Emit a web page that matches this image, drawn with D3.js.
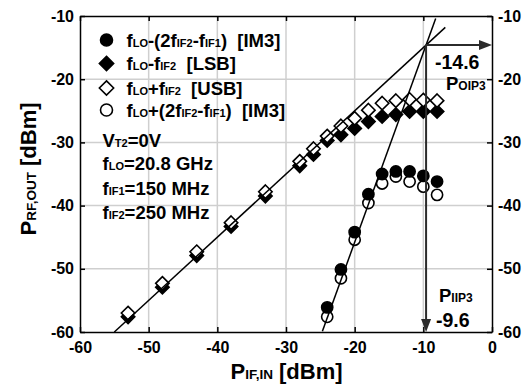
<!DOCTYPE html>
<html>
<head>
<meta charset="utf-8">
<script src="https://cdn.jsdelivr.net/npm/d3@7"></script>
<style>
  body { margin: 0; background: #fff; }
  svg text { font-family: "Liberation Sans", Arial, sans-serif; font-weight: bold; white-space: pre; }
</style>
</head>
<body>
<script>
// Input power sweep for the sideband tones
const sbX = [-53, -48, -43, -38, -33, -28, -26, -24, -22, -20, -18, -16, -14, -12, -10, -8];
const usb = [-57.0, -52.3, -47.3, -42.7, -37.8, -33.0, -31.0, -29.0, -27.4, -26.2, -24.9, -23.8, -23.4, -23.2, -23.3, -23.4];
const lsb = [-57.6, -52.9, -47.9, -43.3, -38.5, -33.7, -31.9, -29.7, -28.8, -27.8, -26.7, -25.9, -25.6, -25.1, -25.1, -25.1];

// Third-order intermodulation products
const imX = [-24, -22, -20, -18, -16, -14, -12, -10, -8];
const im3Lower = [-56.1, -50.1, -44.2, -38.2, -35.0, -34.6, -34.6, -35.3, -36.2];
const im3Upper = [-57.6, -51.5, -45.4, -39.6, -36.5, -35.4, -36.2, -37.0, -38.3];

// Intercept point
const IIP3 = -9.6;
const OIP3 = -14.6;
// Extent of the fitted slope-1 and slope-3 lines
const fit1X = [-55, -6.8];
const fit3X = [-24.7, -8.2];

const xTicks = [-60, -50, -40, -30, -20, -10, 0];
const yTicks = [-60, -50, -40, -30, -20, -10];

const W = 525, H = 384;
const x = d3.scaleLinear().domain([-60, 0]).range([80, 492]);
const y = d3.scaleLinear().domain([-60, -10]).range([332, 16]);

const svg = d3.select("body").append("svg").attr("width", W).attr("height", H);

// grid
const grid = svg.append("g").attr("stroke", "#cfcfcf").attr("stroke-width", 1.5);
grid.selectAll("line.v").data(xTicks.slice(1, -1)).join("line")
  .attr("x1", d => x(d)).attr("x2", d => x(d)).attr("y1", y(-60)).attr("y2", y(-10));
grid.selectAll("line.h").data(yTicks.slice(1, -1)).join("line")
  .attr("y1", d => y(d)).attr("y2", d => y(d)).attr("x1", x(-60)).attr("x2", x(0));

// axes with inward ticks
const fmt = d => String(d);
function styleAxis(g) {
  g.selectAll("path.domain").attr("stroke", "#000").attr("stroke-width", 1.5);
  g.selectAll(".tick line").attr("stroke", "#000").attr("stroke-width", 1.5);
  g.selectAll(".tick text").attr("fill", "#000").style("font-size", "16px")
    .style("font-family", "'Liberation Sans', Arial, sans-serif").style("font-weight", "bold");
}
svg.append("g").attr("transform", `translate(0,${y(-60)})`)
  .call(d3.axisBottom(x).tickValues(xTicks).tickFormat(fmt).tickSizeInner(-5).tickSizeOuter(0).tickPadding(10))
  .call(styleAxis);
svg.append("g").attr("transform", `translate(0,${y(-10)})`)
  .call(d3.axisTop(x).tickValues(xTicks).tickFormat("").tickSizeInner(-5).tickSizeOuter(0))
  .call(styleAxis);
svg.append("g").attr("transform", `translate(${x(-60)},0)`)
  .call(d3.axisLeft(y).tickValues(yTicks).tickFormat(fmt).tickSizeInner(-5).tickSizeOuter(0).tickPadding(6))
  .call(styleAxis);
svg.append("g").attr("transform", `translate(${x(0)},0)`)
  .call(d3.axisRight(y).tickValues(yTicks).tickFormat(fmt).tickSizeInner(-5).tickSizeOuter(0).tickPadding(6))
  .call(styleAxis);

// markers
const diamondPath = d3.symbol().type(d3.symbolDiamond2).size(115)();
function diamonds(xs, ys, fill) {
  svg.append("g").selectAll("path").data(xs.map((v, i) => [v, ys[i]])).join("path")
    .attr("d", diamondPath)
    .attr("transform", d => `translate(${x(d[0])},${y(d[1])})`)
    .attr("fill", fill).attr("stroke", "#000").attr("stroke-width", 1.6);
}
function circles(xs, ys, fill) {
  svg.append("g").selectAll("circle").data(xs.map((v, i) => [v, ys[i]])).join("circle")
    .attr("cx", d => x(d[0])).attr("cy", d => y(d[1])).attr("r", 5.6)
    .attr("fill", fill).attr("stroke", "#000").attr("stroke-width", 1.6);
}
diamonds(sbX, lsb, "#000");
diamonds(sbX, usb, "#fff");
circles(imX, im3Upper, "#fff");
circles(imX, im3Lower, "#000");

// fitted lines through the intercept point
const line = d3.line().x(d => x(d[0])).y(d => y(d[1]));
svg.append("path").attr("d", line(fit1X.map(v => [v, OIP3 + (v - IIP3)])))
  .attr("fill", "none").attr("stroke", "#000").attr("stroke-width", 1.5);
svg.append("path").attr("d", line(fit3X.map(v => [v, OIP3 + 3 * (v - IIP3)])))
  .attr("fill", "none").attr("stroke", "#000").attr("stroke-width", 1.5);

// intercept arrows
const arrowCol = "#2b2b2b";
svg.append("line").attr("x1", x(IIP3)).attr("x2", x(IIP3)).attr("y1", y(OIP3)).attr("y2", y(-60) - 10)
  .attr("stroke", arrowCol).attr("stroke-width", 2);
svg.append("line").attr("x1", x(IIP3)).attr("x2", x(0) - 10).attr("y1", y(OIP3)).attr("y2", y(OIP3))
  .attr("stroke", arrowCol).attr("stroke-width", 2);
svg.append("path")
  .attr("d", `M${x(IIP3)},${y(-60)} l-5,-13 l10,0 z`).attr("fill", arrowCol);
svg.append("path")
  .attr("d", `M${x(0)},${y(OIP3)} l-13,-5 l0,10 z`).attr("fill", arrowCol);

// text with subscripts
function rich(parent, px, py, parts, size, subSize, anchor) {
  const t = parent.append("text").attr("x", px).attr("y", py).attr("fill", "#000")
    .style("font-size", size + "px").attr("text-anchor", anchor || "start");
  parts.forEach(p => {
    const s = t.append("tspan").text(p[0]);
    if (p[1]) s.style("font-size", subSize + "px");
  });
  return t;
}

// legend
const legend = [
  { sym: "circle", fill: "#000", parts: [["f"], ["LO", 1], ["-(2f"], ["IF2", 1], ["-f"], ["IF1", 1], [")  [IM3]"]] },
  { sym: "diamond", fill: "#000", parts: [["f"], ["LO", 1], ["-f"], ["IF2", 1], ["  [LSB]"]] },
  { sym: "diamond", fill: "#fff", parts: [["f"], ["LO", 1], ["+f"], ["IF2", 1], ["  [USB]"]] },
  { sym: "circle", fill: "#fff", parts: [["f"], ["LO", 1], ["+(2f"], ["IF2", 1], ["-f"], ["IF1", 1], [")  [IM3]"]] }
];
const legY = [40, 63.5, 88, 110];
const lg = svg.append("g");
legend.forEach((e, i) => {
  if (e.sym === "circle") {
    lg.append("circle").attr("cx", 106.5).attr("cy", legY[i]).attr("r", 6)
      .attr("fill", e.fill).attr("stroke", "#000").attr("stroke-width", 1.6);
  } else {
    lg.append("path").attr("d", d3.symbol().type(d3.symbolDiamond2).size(130)())
      .attr("transform", `translate(106.5,${legY[i]})`)
      .attr("fill", e.fill).attr("stroke", "#000").attr("stroke-width", 1.6);
  }
  rich(lg, 126.5, legY[i] + 6.5, e.parts, 18.5, 11);
});

// operating conditions
const notes = [
  [["V"], ["T2", 1], ["=0V"]],
  [["f"], ["LO", 1], ["=20.8 GHz"]],
  [["f"], ["IF1", 1], ["=150 MHz"]],
  [["f"], ["IF2", 1], ["=250 MHz"]]
];
const noteY = [146.5, 170, 194.5, 219];
notes.forEach((n, i) => rich(svg, 102.5, noteY[i], n, 18.5, 11));

// intercept labels
rich(svg, 435, 69, [[String(OIP3)]], 19.5, 13);
rich(svg, 446, 90, [["P"], ["OIP3", 1]], 18.5, 12);
rich(svg, 439, 302, [["P"], ["IIP3", 1]], 18.5, 12);
rich(svg, 436, 327, [[String(IIP3)]], 19.5, 13);

// axis titles
rich(svg, 286.5, 379, [["P"], ["IF,IN", 1], [" [dBm]"]], 22, 13.5, "middle");
const yt = rich(svg, 0, 0, [["P"], ["RF,OUT", 1], [" [dBm]"]], 22, 13.5, "middle");
yt.attr("transform", "translate(36,169) rotate(-90)");
</script>
</body>
</html>
